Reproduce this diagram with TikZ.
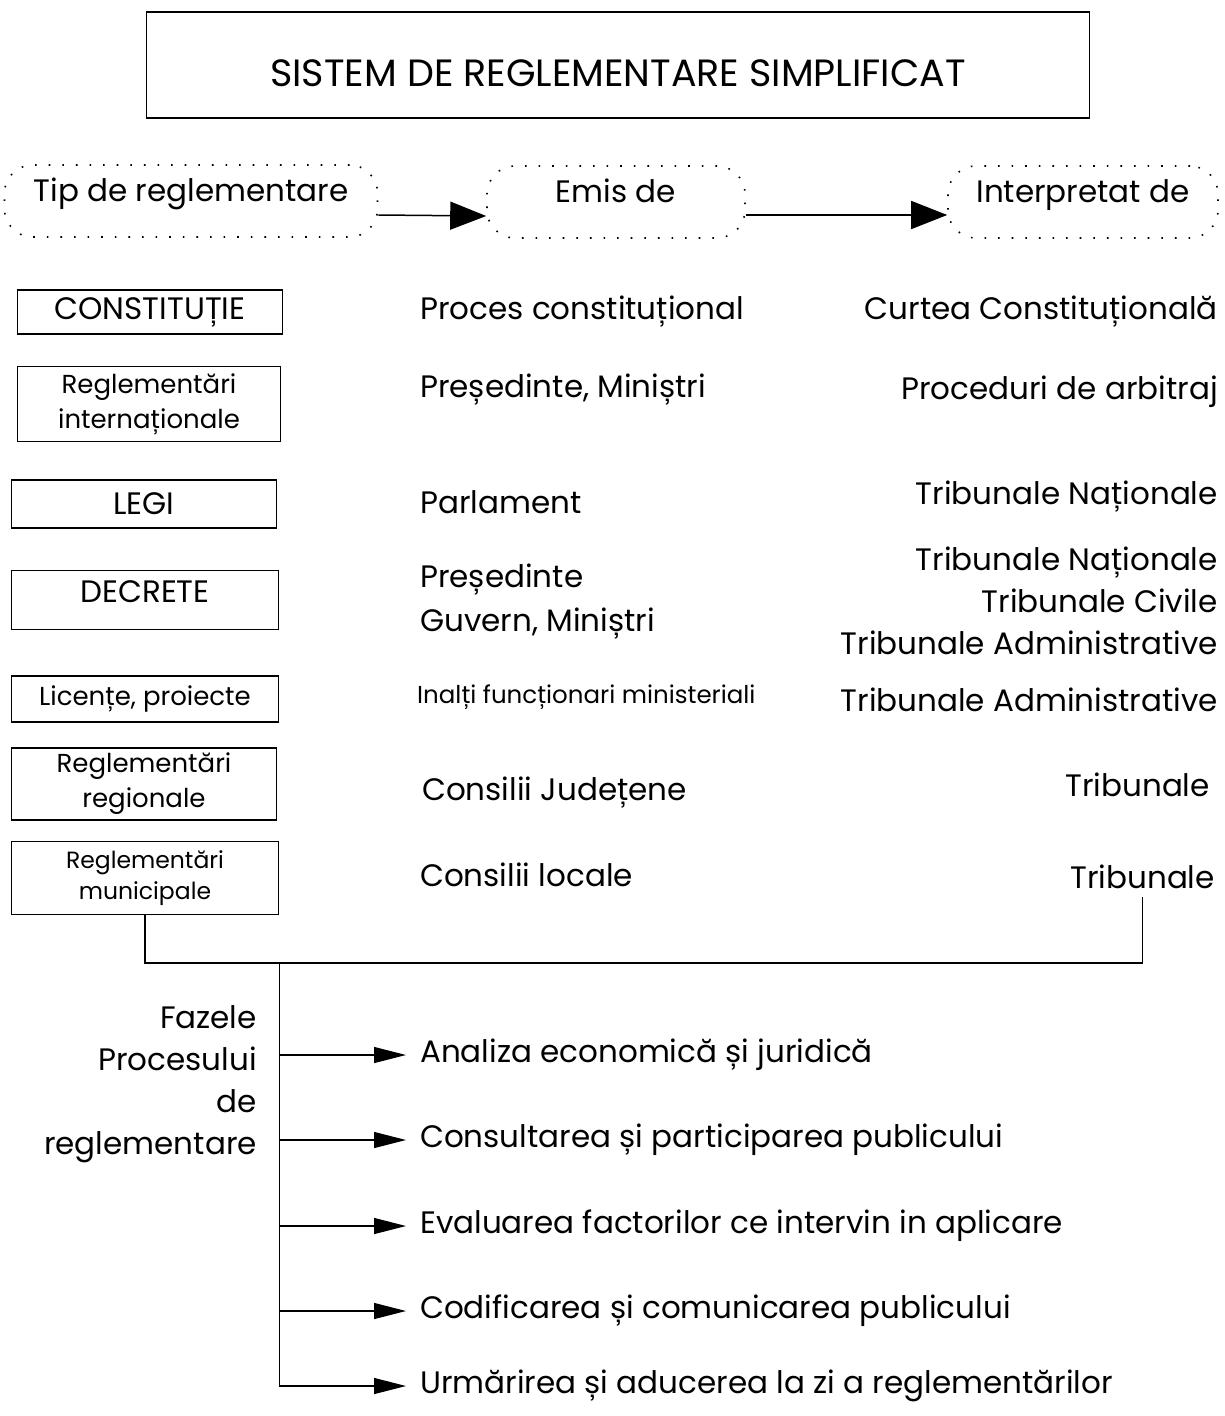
\documentclass[tikz,border=0pt]{standalone}
\usepackage{fontspec}
\setmainfont{Poppins}
\usetikzlibrary{arrows.meta}

\tikzset{
	big/.style = {font = \fontsize{31}{42}\selectfont},
	boxtext/.style = {font = \fontsize{26}{35}\selectfont},
	tinytext/.style = {font = \fontsize{23.5}{31}\selectfont},
	typebox/.style = {draw, line width = 1.3pt, inner sep = 0pt, align = center},
	dotbox/.style = {draw, line width = 1.6pt, dash pattern = on 1.6pt off 12pt,
		rounded corners = 28pt, minimum height = 72pt, text depth = 22pt, big},
	midcol/.style = {anchor = west, inner sep = 0pt, big, align = left},
	rightcol/.style = {anchor = east, inner sep = 0pt, big, align = right},
	bigarrow/.style = {line width = 1.5pt, -{Triangle[length = 36pt, width = 28pt]}},
	phasearrow/.style = {line width = 1.3pt, -{Triangle[length = 32pt, width = 16pt]}, shorten > = 14pt}
}

\begin{document}
\begin{tikzpicture}[x = 1pt, y = -1pt]

	\useasboundingbox (0, 0) rectangle (1224, 1416);

	% Title

	\node [draw, line width = 1.3pt, minimum width = 943pt, minimum height = 106pt] (title) at (618, 65) {};
	\node [font = \fontsize{38}{44}\selectfont] at (618, 73) {SISTEM DE REGLEMENTARE SIMPLIFICAT};

	% Header

	\node [dotbox, minimum width = 373pt] (tip) at (191, 201) {Tip de reglementare};
	\node [dotbox, minimum width = 258pt] (emis) at (616, 202) {Emis de};
	\node [dotbox, minimum width = 270pt] (interp) at (1083, 202) {Interpretat de};

	\draw [bigarrow] ([yshift = -14pt] tip.east) -- ([yshift = -14pt] emis.west);
	\draw [bigarrow] ([yshift = -13pt] emis.east) -- ([yshift = -13pt] interp.west);

	% Types of regulation

	\node [typebox, big, minimum width = 265pt, minimum height = 44pt] (constit) at (150, 312) {CONSTITUȚIE};
	\node [typebox, boxtext, minimum width = 263pt, minimum height = 75pt] (intl) at (149, 404) {Reglementări\\internaționale};
	\node [typebox, big, minimum width = 265pt, minimum height = 48pt] (legi) at (144, 504) {LEGI};
	\node [typebox, big, minimum width = 267pt, minimum height = 59pt, text depth = 16pt] (decrete) at (145, 600) {DECRETE};
	\node [typebox, boxtext, minimum width = 267pt, minimum height = 46pt] (licente) at (145, 699) {Licențe, proiecte};
	\node [typebox, boxtext, minimum width = 265pt, minimum height = 72pt] (regional) at (144, 784) {Reglementări\\regionale};
	\node [typebox, tinytext, minimum width = 267pt, minimum height = 73pt] (munic) at (145, 878) {Reglementări\\municipale};

	% Issued by

	\node [midcol] (emConstit) at (420, 312) {Proces constituțional};
	\node [midcol] (emIntl) at (420, 390) {Președinte, Miniștri};
	\node [midcol] (emLegi) at (420, 502) {Parlament};
	\node [midcol, font = \fontsize{31}{44}\selectfont] (emDecrete) at (420, 602) {Președinte\\Guvern, Miniștri};
	\node [midcol, font = \fontsize{24.5}{31}\selectfont] (emLicente) at (417, 697) {Inalți funcționari ministeriali};
	\node [midcol] (emRegional) at (422, 793) {Consilii Județene};
	\node [midcol] (emMunic) at (420, 875) {Consilii locale};

	% Interpreted by

	\node [rightcol] (inConstit) at (1218, 312) {Curtea Constituțională};
	\node [rightcol] (inIntl) at (1218, 392) {Proceduri de arbitraj};
	\node [rightcol] (inLegi) at (1218, 497) {Tribunale Naționale};
	\node [rightcol] (inDecrete) at (1218, 601) {Tribunale Naționale\\Tribunale Civile\\Tribunale Administrative};
	\node [rightcol] (inLicente) at (1218, 700) {Tribunale Administrative};
	\node [rightcol] (inRegional) at (1210, 785) {Tribunale};
	\node [rightcol] (inMunic) at (1215, 877) {Tribunale};

	% Bus

	\coordinate (bus) at (0, 963);
	\coordinate (spine) at (munic.east |- bus);

	\draw [line width = 1.3pt] (munic.south) -- (munic.south |- bus) -- (inMunic.south |- bus) -- ([yshift = -8pt] inMunic.south);

	% Phases

	\node [anchor = east, inner sep = 0pt, big, align = right] (fazele) at (257, 1084) {Fazele\\Procesului\\de\\reglementare};

	\node [midcol] (ph1) at (420, 1055) {Analiza economică și juridică};
	\node [midcol] (ph2) at (420, 1140) {Consultarea și participarea publicului};
	\node [midcol] (ph3) at (420, 1226) {Evaluarea factorilor ce intervin in aplicare};
	\node [midcol] (ph4) at (420, 1311) {Codificarea și comunicarea publicului};
	\node [midcol] (ph5) at (420, 1386) {Urmărirea și aducerea la zi a reglementărilor};

	\draw [phasearrow] (spine) |- (ph5.west);
	\foreach \p in {ph1, ph2, ph3, ph4}
		\draw [phasearrow] (spine |- \p.west) -- (\p.west);

\end{tikzpicture}
\end{document}
